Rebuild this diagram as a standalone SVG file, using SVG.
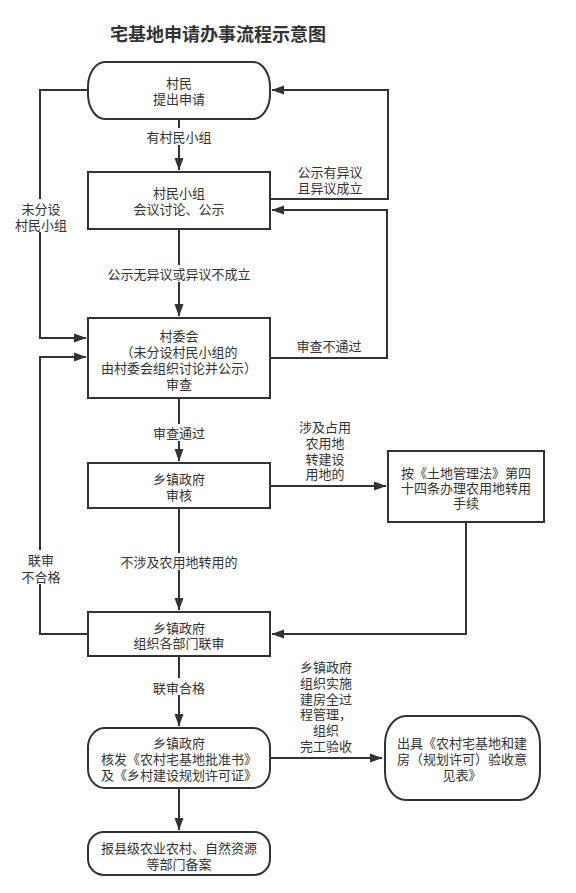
<svg xmlns="http://www.w3.org/2000/svg" width="576" height="893" viewBox="0 0 576 893">
<style>
text{font-family:"Noto Sans CJK SC","Noto Sans",sans-serif;font-size:13px;fill:#333;text-anchor:middle;dominant-baseline:central}
.title{font-size:18px;font-weight:bold;fill:#333}
.box{fill:#fff;stroke:#333;stroke-width:2}
.ln{fill:none;stroke:#333;stroke-width:2}
.bg{fill:#fff}
</style>
<defs>
<marker id="arr" markerUnits="userSpaceOnUse" markerWidth="13" markerHeight="10" refX="12" refY="5" orient="auto">
<path d="M0,0.5 L12.5,5 L0,9.5 z" fill="#333"/>
</marker>
</defs>
<rect width="576" height="893" fill="#fff"/>
<text class="title" x="218" y="33">宅基地申请办事流程示意图</text>

<g id="connectors">
<path class="ln" d="M179,119 V170" marker-end="url(#arr)"/>
<path class="ln" d="M270,199 H388 V90 H272" marker-end="url(#arr)"/>
<path class="ln" d="M270,358 H387 V210 H272" marker-end="url(#arr)"/>
<path class="ln" d="M88,90 H40 V338 H86" marker-end="url(#arr)"/>
<path class="ln" d="M179,229 V316" marker-end="url(#arr)"/>
<path class="ln" d="M88,634 H40 V357 H86" marker-end="url(#arr)"/>
<path class="ln" d="M179,398 V461" marker-end="url(#arr)"/>
<path class="ln" d="M270,486 H386" marker-end="url(#arr)"/>
<path class="ln" d="M466,522 V634 H272" marker-end="url(#arr)"/>
<path class="ln" d="M179,508 V610" marker-end="url(#arr)"/>
<path class="ln" d="M179,656 V726" marker-end="url(#arr)"/>
<path class="ln" d="M270,758 H382" marker-end="url(#arr)"/>
<path class="ln" d="M179,788 V830" marker-end="url(#arr)"/>
<g id="labels">
<rect class="bg" x="145" y="128" width="68" height="17"/>
<text x="179" y="136">有村民小组</text>
<text x="330" y="171">公示有异议</text>
<text x="330" y="187">且异议成立</text>
<text x="329" y="345">审查不通过</text>
<rect class="bg" x="14" y="199" width="54" height="33"/>
<text x="41" y="208">未分设</text>
<text x="41" y="224">村民小组</text>
<rect class="bg" x="106" y="265" width="146" height="17"/>
<text x="179" y="273">公示无异议或异议不成立</text>
<rect class="bg" x="14" y="550" width="54" height="34"/>
<text x="41" y="559">联审</text>
<text x="41" y="576">不合格</text>
<rect class="bg" x="151" y="424" width="56" height="17"/>
<text x="179" y="432">审查通过</text>
<text x="325" y="426">涉及占用</text>
<text x="325" y="442">农用地</text>
<text x="325" y="458">转建设</text>
<text x="325" y="473">用地的</text>
<rect class="bg" x="118" y="553" width="122" height="17"/>
<text x="179" y="561">不涉及农用地转用的</text>
<rect class="bg" x="151" y="678" width="56" height="17"/>
<text x="179" y="687">联审合格</text>
<text x="326" y="666">乡镇政府</text>
<text x="326" y="682">组织实施</text>
<text x="326" y="698">建房全过</text>
<text x="326" y="713">程管理，</text>
<text x="326" y="729">组织</text>
<text x="326" y="745">完工验收</text>
</g>
</g>

<g id="n1">
<rect class="box" x="88" y="62" width="182" height="57" rx="17" ry="25"/>
<text x="179" y="82">村民</text>
<text x="179" y="98">提出申请</text>
</g>
<g id="n2">
<rect class="box" x="88" y="172" width="182" height="57"/>
<text x="179" y="192">村民小组</text>
<text x="179" y="208">会议讨论、公示</text>
</g>
<g id="n3">
<rect class="box" x="88" y="318" width="182" height="80"/>
<text x="179" y="335">村委会</text>
<text x="179" y="351">（未分设村民小组的</text>
<text x="179" y="367">由村委会组织讨论并公示）</text>
<text x="179" y="383">审查</text>
</g>
<g id="n4">
<rect class="box" x="88" y="463" width="182" height="45"/>
<text x="179" y="478">乡镇政府</text>
<text x="179" y="494">审核</text>
</g>
<g id="n5">
<rect class="box" x="388" y="451" width="156" height="71"/>
<text x="466" y="472">按《土地管理法》第四</text>
<text x="466" y="487">十四条办理农用地转用</text>
<text x="466" y="502">手续</text>
</g>
<g id="n6">
<rect class="box" x="88" y="612" width="182" height="44"/>
<text x="179" y="627">乡镇政府</text>
<text x="179" y="642">组织各部门联审</text>
</g>
<g id="n7">
<rect class="box" x="88" y="728" width="182" height="60" rx="17" ry="19"/>
<text x="179" y="742">乡镇政府</text>
<text x="179" y="758">核发《农村宅基地批准书》</text>
<text x="179" y="774">及《乡村建设规划许可证》</text>
</g>
<g id="n8">
<rect class="box" x="385" y="716" width="155" height="84" rx="21" ry="28"/>
<text x="462" y="742">出具《农村宅基地和建</text>
<text x="462" y="758">房（规划许可）验收意</text>
<text x="462" y="774">见表》</text>
</g>
<g id="n9">
<rect class="box" x="88" y="832" width="182" height="43" rx="16" ry="16"/>
<text x="179" y="847">报县级农业农村、自然资源</text>
<text x="179" y="863">等部门备案</text>
</g>
</svg>
